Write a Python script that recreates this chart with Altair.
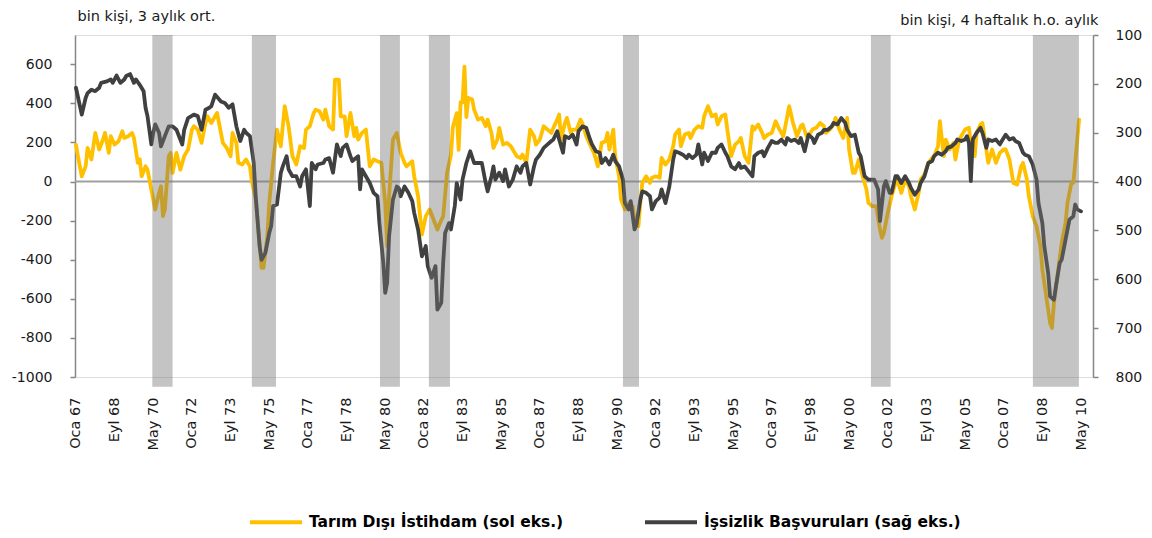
import altair as alt
import pandas as pd

# x = ay sırası (Oca 1967 = 0)
# Tarım Dışı İstihdam (sol eksen, bin kişi, 3 aylık ort.)
ist_ay = [0, 1, 3, 5, 6, 8, 10, 12, 14, 15, 17, 18, 20, 22, 24, 25, 27, 29, 30, 32, 33, 34, 36, 37, 39, 41, 43, 44, 45, 46,
          48, 49, 50, 52, 54, 56, 58, 60, 61, 63, 65, 67, 68, 70, 73, 74, 76, 78, 80, 81, 83, 84, 86, 88, 90, 91, 93, 95, 96, 97,
          99, 100, 102, 104, 106, 108, 110, 112, 114, 116, 118, 119, 121, 123, 124, 126, 128, 129, 131, 133, 134, 136, 137, 139, 140,
          142, 144, 145, 146, 148, 150, 152, 154, 156, 158, 160, 161, 162, 164, 166, 168, 170, 171, 174, 175, 177, 179, 181, 183,
          185, 187, 188, 190, 192, 194, 195, 197, 198, 199, 200, 201, 202, 203, 205, 206, 208, 210, 212, 213, 215, 216, 218, 219,
          221, 223, 225, 228, 230, 231, 233, 235, 237, 238, 240, 242, 244, 246, 247, 249, 250, 251, 253, 254, 256, 257, 259, 261,
          262, 264, 266, 268, 270, 272, 274, 275, 276, 278, 279, 281, 282, 284, 286, 288, 289, 291, 292, 293, 295, 297, 298, 300,
          302, 303, 305, 307, 309, 310, 312, 313, 315, 317, 318, 320, 322, 324, 325, 327, 329, 331, 332, 334, 336, 337, 339, 341,
          343, 344, 346, 348, 350, 351, 353, 355, 356, 358, 360, 362, 364, 366, 368, 369, 371, 373, 375, 376, 378, 380, 381, 383,
          385, 387, 388, 390, 392, 393, 395, 397, 399, 400, 402, 403, 405, 407, 409, 410, 412, 414, 416, 417, 418, 420, 422, 424,
          425, 427, 429, 431, 432, 434, 436, 437, 439, 441, 443, 444, 446, 447, 449, 450, 452, 454, 455, 457, 459, 460, 462, 463,
          465, 466, 468, 469, 471, 472, 474, 476, 478, 480, 481, 483, 485, 487, 489, 490, 492, 493, 495, 497, 499, 500, 502, 504,
          505, 506, 508, 510, 512, 513, 515, 516, 517, 519]
ist_deger = [189, 130, 27, 78, 172, 113, 249, 164, 215, 249, 147, 232, 189, 206, 258, 223, 232, 249, 223, 96, 113, 27, 78, 61, -41, -143, -58, -24, -177, -143,
             130, 147, 44, 147, 61, 130, 164, 266, 283, 266, 198, 300, 334, 300, 351, 300, 198, 172, 130, 249, 198, 96, 87, 113, 78, 2, -92, -314, -442, -442,
             -280, -109, 96, 266, 181, 386, 283, 130, 87, 181, 172, 266, 283, 351, 368, 360, 317, 368, 283, 266, 522, 522, 334, 334, 232,
             351, 232, 275, 215, 249, 266, 78, 113, 104, 96, -109, -331, -75, 215, 249, 147, 96, 78, 104, 27, -75, -271, -177, -143,
             -194, -246, -220, -177, 44, 136, 279, 350, 162, 407, 405, 588, 330, 428, 420, 368, 317, 326, 283, 317, 249, 172, 215, 275,
             189, 198, 181, 130, 121, 138, 96, 266, 232, 189, 215, 283, 266, 249, 275, 317, 343, 215, 300, 326, 249, 266, 266, 317,
             300, 232, 189, 147, 78, 198, 206, 249, 164, 266, 130, 27, -92, -143, -109, -126, -194, -229, -109, -7, 27, -7, 19, 27,
             19, 121, 87, 113, 181, 241, 266, 181, 241, 249, 223, 266, 283, 275, 334, 386, 334, 343, 292, 334, 343, 266, 130, 189,
             206, 223, 130, 96, 283, 266, 292, 249, 223, 241, 249, 309, 266, 232, 334, 386, 300, 232, 283, 292, 232, 249, 266, 275,
             300, 283, 249, 266, 292, 326, 266, 223, 326, 164, 44, 44, 113, 27, -41, -109, -126, -126, -246, -288, -263, -160, -75, -7,
             10, -58, 10, -24, -75, -143, -58, 10, 36, 96, 121, 130, 181, 309, 130, 215, 164, 198, 113, 215, 249, 266, 275, 198,
             130, 249, 292, 300, 164, 96, 164, 96, 147, 164, 164, 113, -7, -15, 78, 96, 10, -75, -177, -229, -331, -450, -587, -723,
             -749, -621, -467, -314, -212, -109, -7, -7, 96, 317]

# İşsizlik Başvuruları (sağ eksen, ters, bin kişi, 4 haftalık h.o.)
bas_ay = [0, 3, 5, 6, 8, 10, 12, 13, 16, 18, 19, 21, 23, 25, 26, 28, 30, 31, 33, 35, 36, 37, 39, 40, 41, 43, 44, 46, 48, 50,
          52, 55, 56, 58, 61, 63, 65, 67, 69, 70, 72, 75, 77, 79, 81, 83, 85, 87, 88, 90, 92, 93, 95, 96, 98, 100, 101, 102, 104, 106,
          107, 109, 110, 112, 114, 116, 117, 119, 121, 122, 124, 125, 128, 129, 131, 133, 135, 137, 138, 140, 142, 143, 146, 147, 148,
          150, 152, 154, 156, 157, 159, 160, 161, 162, 164, 166, 167, 168, 170, 172, 174, 175, 177, 179, 181, 182, 184, 186, 187, 189,
          190, 191, 193, 194, 196, 197, 199, 200, 202, 204, 206, 208, 210, 212, 213, 215, 216, 217, 219, 221, 222, 224, 226, 228, 230,
          231, 233, 235, 237, 238, 240, 242, 244, 246, 247, 249, 250, 252, 253, 255, 257, 259, 260, 262, 264, 266, 267, 269, 271, 272,
          274, 276, 278, 279, 281, 283, 284, 286, 287, 289, 290, 292, 293, 295, 297, 298, 300, 302, 303, 305, 307, 309, 310, 312, 314,
          316, 317, 319, 321, 322, 324, 325, 327, 329, 331, 332, 334, 336, 337, 339, 341, 343, 344, 346, 348, 350, 351, 353, 355, 356,
          358, 360, 362, 363, 365, 367, 368, 370, 372, 374, 375, 377, 379, 381, 382, 384, 386, 387, 389, 391, 392, 394, 396, 398, 399,
          401, 403, 405, 406, 408, 410, 412, 413, 415, 416, 418, 419, 421, 422, 424, 425, 427, 429, 431, 432, 434, 436, 437, 439, 441,
          443, 444, 446, 448, 450, 451, 453, 455, 456, 458, 460, 461, 462, 463, 464, 466, 468, 469, 471, 472, 474, 476, 478, 479, 481,
          483, 485, 486, 488, 490, 491, 493, 495, 497, 498, 500, 501, 503, 504, 506, 507, 509, 510, 512, 514, 516, 517, 518, 520]
bas_deger = [208, 263, 229, 219, 212, 215, 208, 198, 195, 191, 198, 183, 198, 191, 184, 180, 198, 191, 202, 215, 249, 266, 324, 300, 283, 300, 328, 307, 287, 287,
             294, 324, 294, 270, 263, 266, 294, 253, 249, 246, 222, 236, 239, 249, 242, 287, 317, 294, 300, 307, 362, 430, 532, 560, 546, 505, 491, 450, 447, 382,
             369, 348, 375, 389, 389, 410, 389, 375, 450, 362, 375, 365, 362, 355, 352, 382, 324, 348, 331, 324, 348, 358, 348, 416, 375,
             389, 403, 423, 430, 485, 566, 628, 607, 512, 437, 410, 413, 430, 410, 423, 440, 464, 498, 553, 532, 573, 597, 573, 662, 648,
             566, 505, 485, 498, 450, 403, 437, 396, 362, 338, 362, 362, 362, 403, 420, 389, 369, 396, 382, 399, 375, 410, 396, 369, 382,
             369, 362, 406, 369, 355, 345, 331, 324, 317, 314, 297, 314, 341, 307, 311, 304, 324, 297, 287, 290, 314, 324, 338, 341, 362,
             352, 365, 345, 358, 369, 396, 444, 457, 440, 498, 488, 437, 420, 423, 430, 457, 440, 433, 416, 444, 410, 355, 338, 341, 345,
             352, 345, 352, 345, 324, 365, 341, 358, 341, 341, 331, 324, 341, 348, 369, 375, 362, 372, 369, 379, 389, 348, 341, 338, 348,
             331, 317, 321, 321, 314, 324, 311, 317, 314, 321, 311, 338, 304, 311, 321, 304, 300, 294, 294, 287, 280, 283, 270, 280, 294,
             307, 304, 341, 348, 389, 396, 396, 396, 416, 481, 410, 399, 423, 423, 389, 389, 403, 389, 403, 413, 427, 416, 403, 389, 362,
             358, 348, 341, 345, 338, 331, 328, 321, 314, 317, 314, 307, 321, 399, 314, 300, 290, 300, 331, 314, 317, 314, 324, 317, 304,
             314, 311, 317, 321, 341, 345, 348, 365, 396, 444, 485, 532, 587, 635, 642, 615, 566, 560, 519, 478, 471, 447, 457, 461]

# Gri gölgeli dönemler (ay sırası)
donem_bas = [39.5, 91.0, 157.3, 182.6, 283.0, 411.3, 495.1]
donem_bit = [50.0, 103.5, 167.6, 193.5, 291.3, 421.5, 518.9]

x_etiketleri = ["Oca 67", "Eyl 68", "May 70", "Oca 72", "Eyl 73", "May 75", "Oca 77", "Eyl 78", "May 80",
                "Oca 82", "Eyl 83", "May 85", "Oca 87", "Eyl 88", "May 90", "Oca 92", "Eyl 93", "May 95",
                "Oca 97", "Eyl 98", "May 00", "Oca 02", "Eyl 03", "May 05", "Oca 07", "Eyl 08", "May 10"]
x_tikler = [20 * i for i in range(len(x_etiketleri))]
sol_tikler = [-1000, -800, -600, -400, -200, 0, 200, 400, 600]
sag_tikler = [100, 200, 300, 400, 500, 600, 700, 800]

seri1 = "Tarım Dışı İstihdam (sol eks.)"
seri2 = "İşsizlik Başvuruları (sağ eks.)"

df_ist = pd.DataFrame({"ay": ist_ay, "deger": ist_deger, "seri": seri1})
df_bas = pd.DataFrame({"ay": bas_ay, "deger": bas_deger, "seri": seri2})
df_don = pd.DataFrame({"ay": donem_bas, "bit": donem_bit, "ust": 100, "alt_sinir": 820})
df_sifir = pd.DataFrame({"deger": [0]})

FONT = "DejaVu Sans"
TXT = "#1a1a1a"
AX = "#868686"

# etiket ifadesi: tik değeri -> "Oca 67" vb.
etiket_ifadesi = " : ".join(
    f"datum.value == {t} ? '{e}'" for t, e in zip(x_tikler, x_etiketleri)) + " : ''"

x_scale = alt.Scale(domain=[-0.5, 526.2], nice=False, zero=False)
x_axis = alt.Axis(values=x_tikler, labelExpr=etiket_ifadesi, orient="bottom",
                  labelAngle=270, labelAlign="right", labelBaseline="middle", labelPadding=20,
                  tickSize=0, tickOpacity=0, domainOpacity=0, grid=False, title="",
                  labelFont=FONT, labelFontSize=14.5, labelColor=TXT)
x_enc = alt.X("ay:Q", scale=x_scale, axis=x_axis)

sol_scale = alt.Scale(domain=[-1000, 750], nice=False, zero=False)
sol_axis = alt.Axis(values=sol_tikler, orient="left", grid=False, tickSize=5, tickColor=AX, tickWidth=1.5,
                    domainColor=AX, domainWidth=1.5, labelPadding=18, labelFont=FONT, labelFontSize=14,
                    labelExpr="'' + datum.value",
                    labelColor=TXT, title="bin kişi, 3 aylık ort.", titleAngle=0, titleX=2, titleY=-15,
                    titleAlign="left", titleBaseline="alphabetic", titleFont=FONT, titleFontSize=14.5,
                    titleFontWeight="normal", titleColor=TXT)
sag_scale = alt.Scale(domain=[100, 800], reverse=True, nice=False, zero=False)
sag_axis = alt.Axis(values=sag_tikler, orient="right", grid=False, tickSize=5, tickColor=AX, tickWidth=1.5,
                    domainColor=AX, domainWidth=1.5, labelPadding=17, labelFont=FONT, labelFontSize=14,
                    labelExpr="'' + datum.value",
                    labelColor=TXT, title="bin kişi, 4 haftalık h.o. aylık", titleAngle=0, titleX=5, titleY=-11,
                    titleAlign="right", titleBaseline="alphabetic", titleFont=FONT, titleFontSize=14.5,
                    titleFontWeight="normal", titleColor=TXT)

renk_scale = alt.Scale(domain=[seri1, seri2], range=["#FFC000", "#404040"])
legend = alt.Legend(orient="none", legendX=173, legendY=459, direction="horizontal", title=None,
                    labelFont=FONT, labelFontSize=15.5, labelFontWeight="bold", labelColor="#000000",
                    symbolType="stroke", symbolSize=2704, symbolStrokeWidth=4, labelOffset=5,
                    columnPadding=73, labelLimit=0)

# Her katman kendi y ölçeğine sahip (bağımsız); y eksenini yalnızca çizgi katmanları gösterir
sifir = alt.Chart(df_sifir).mark_rule(color="#a0a0a0", strokeWidth=2).encode(
    y=alt.Y("deger:Q", scale=sol_scale, axis=None))

ist = alt.Chart(df_ist).mark_line(strokeWidth=3.8, strokeJoin="round", strokeCap="round").encode(
    x=x_enc,
    y=alt.Y("deger:Q", scale=sol_scale, axis=sol_axis),
    color=alt.Color("seri:N", scale=renk_scale, legend=legend))

bas = alt.Chart(df_bas).mark_line(strokeWidth=3.8, strokeJoin="round", strokeCap="round").encode(
    x=x_enc,
    y=alt.Y("deger:Q", scale=sag_scale, axis=sag_axis),
    color=alt.Color("seri:N", scale=renk_scale, legend=legend))

donem = alt.Chart(df_don).mark_rect(color="#727272", opacity=0.42).encode(
    x=x_enc,
    x2="bit:Q",
    y=alt.Y("ust:Q", scale=sag_scale, axis=None),
    y2="alt_sinir:Q")

chart = alt.layer(sifir, ist, bas, donem).resolve_scale(y="independent").properties(
    width=1018, height=342,
    padding={"left": 67, "top": 27, "right": 51, "bottom": 153},
    autosize=alt.AutoSizeParams(type="none"),
).configure_view(stroke=None).configure(font=FONT)

chart.save("out.html", embed_options={"renderer": "svg", "actions": False})
